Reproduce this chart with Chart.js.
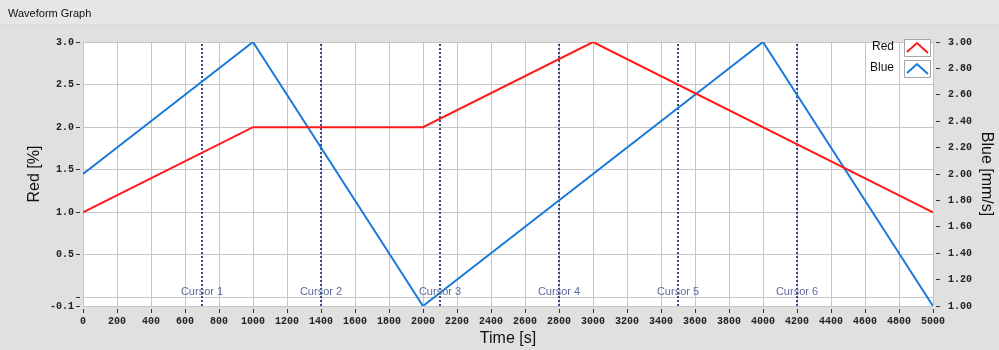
<!DOCTYPE html>
<html lang="en">

<head>
  <meta charset="UTF-8">
  <script src="https://cdn.jsdelivr.net/npm/chart.js"></script>
  <title>Waveform Graph</title>
  <style>
    body { margin: 0; background: #e0e0e0; }
    #caixa { width: 999px; height: 350px; }
  </style>
</head>

<body>
  <div id="caixa"><canvas id="grafico"></canvas></div>
</body>

<script>
  // dados
  const tempoRed = [0, 1000, 2000, 3000, 5000];
  const valoresRed = [1.0, 2.0, 2.0, 3.0, 1.0];
  const tempoBlue = [0, 1000, 2000, 4000, 5000];
  const valoresBlue = [2.0, 3.0, 1.0, 3.0, 1.0];
  const nomesSeries = ['Red', 'Blue'];
  const coresSeries = ['#ff1a1a', '#1a7ad8'];

  const cursores = [700, 1400, 2100, 2800, 3500, 4200];
  const nomesCursores = ['Cursor 1', 'Cursor 2', 'Cursor 3', 'Cursor 4', 'Cursor 5', 'Cursor 6'];

  const ticksRed = [-0.1, 0, 0.5, 1.0, 1.5, 2.0, 2.5, 3.0];

  const fonteTicks = { family: '"Liberation Mono", monospace', size: 10, weight: 'bold' };
  const fonteTitulo = { family: '"Liberation Sans", Arial, sans-serif', size: 16 };

  const fundo = {
    id: 'fundo',
    beforeDraw(chart) {
      const ctx = chart.ctx, a = chart.chartArea;
      ctx.save();
      ctx.fillStyle = '#e0e0e0';
      ctx.fillRect(0, 0, chart.width, chart.height);
      ctx.fillStyle = '#e6e6e6';
      ctx.fillRect(0, 0, chart.width, 24);
      ctx.fillStyle = '#dadada';
      ctx.fillRect(0, 24, chart.width, 1);
      ctx.fillStyle = '#ffffff';
      ctx.fillRect(a.left, a.top, a.right - a.left, a.bottom - a.top);
      ctx.fillStyle = '#111';
      ctx.font = '11px "Liberation Sans", Arial, sans-serif';
      ctx.textBaseline = 'middle';
      ctx.fillText('Waveform Graph', 8, 14);
      ctx.restore();
    }
  };

  const rotulosCursores = {
    id: 'rotulosCursores',
    afterDatasetsDraw(chart) {
      const ctx = chart.ctx, x = chart.scales.x, a = chart.chartArea;
      ctx.save();
      ctx.fillStyle = '#5d6aa0';
      ctx.font = '11px "Liberation Sans", Arial, sans-serif';
      ctx.textAlign = 'center';
      ctx.textBaseline = 'middle';
      cursores.forEach((c, i) => {
        ctx.fillText(nomesCursores[i], x.getPixelForValue(c), a.bottom - 14);
      });
      ctx.restore();
    }
  };

  const legenda = {
    id: 'legenda',
    afterDraw(chart) {
      const ctx = chart.ctx, a = chart.chartArea;
      ctx.save();
      nomesSeries.forEach((nome, i) => {
        const bx = a.right - 29, by = a.top - 3 + i * 21;
        ctx.fillStyle = '#111';
        ctx.font = '12px "Liberation Sans", Arial, sans-serif';
        ctx.textAlign = 'right';
        ctx.textBaseline = 'middle';
        ctx.fillText(nome, a.right - 39, by + 8);
        ctx.fillStyle = '#ffffff';
        ctx.fillRect(bx, by, 26, 17);
        ctx.strokeStyle = '#a8a8a8';
        ctx.lineWidth = 1;
        ctx.strokeRect(bx + 0.5, by + 0.5, 26, 17);
        ctx.strokeStyle = coresSeries[i];
        ctx.lineWidth = 2;
        ctx.beginPath();
        ctx.moveTo(bx + 3, by + 13);
        ctx.lineTo(bx + 13, by + 4);
        ctx.lineTo(bx + 24, by + 14);
        ctx.stroke();
      });
      ctx.restore();
    }
  };

  const datasets = [
    {
      label: nomesSeries[0],
      data: tempoRed.map((t, i) => ({ x: t, y: valoresRed[i] })),
      borderColor: coresSeries[0],
      borderWidth: 2,
      pointRadius: 0,
      yAxisID: 'y'
    },
    {
      label: nomesSeries[1],
      data: tempoBlue.map((t, i) => ({ x: t, y: valoresBlue[i] })),
      borderColor: coresSeries[1],
      borderWidth: 2,
      pointRadius: 0,
      yAxisID: 'y2'
    }
  ];
  cursores.forEach((c, i) => {
    datasets.push({
      label: nomesCursores[i],
      data: [{ x: c, y: -0.1 }, { x: c, y: 3.0 }],
      borderColor: '#3a4890',
      borderWidth: 2,
      borderDash: [2, 2],
      pointRadius: 0,
      yAxisID: 'y'
    });
  });

  new Chart(document.getElementById('grafico'), {
    type: 'line',
    data: { datasets: datasets },
    plugins: [fundo, rotulosCursores, legenda],
    options: {
      animation: false,
      responsive: true,
      maintainAspectRatio: false,
      layout: { padding: { top: 42, left: 0, right: 0, bottom: 0 } },
      plugins: {
        legend: { display: false },
        tooltip: { enabled: false }
      },
      scales: {
        x: {
          type: 'linear',
          min: 0,
          max: 5000,
          afterFit: (s) => { s.height = 44; },
          border: { display: false },
          grid: { color: '#c6c6c6', tickColor: '#333', tickLength: 7, tickBorderDash: [0, 3, 4, 100] },
          ticks: {
            stepSize: 200, autoSkip: false, maxRotation: 0, padding: 2, color: '#222', font: fonteTicks,
            callback: (v) => String(v)
          },
          title: { display: true, text: 'Time [s]', color: '#111', font: fonteTitulo, padding: { top: 0, bottom: 2 } }
        },
        y: {
          position: 'left',
          min: -0.1,
          max: 3.0,
          afterFit: (s) => { s.width = 83; },
          afterBuildTicks: (s) => { s.ticks = ticksRed.map(v => ({ value: v })); },
          border: { display: false },
          grid: { color: '#c6c6c6', tickColor: '#333', tickLength: 7, tickBorderDash: [4, 100] },
          ticks: {
            padding: 2, color: '#222', font: fonteTicks,
            callback: (v) => v === 0 ? '' : v.toFixed(1)
          },
          title: { display: true, text: 'Red [%]', color: '#111', font: fonteTitulo, padding: { top: 25, bottom: 0 } }
        },
        y2: {
          position: 'right',
          min: 1.0,
          max: 3.0,
          afterFit: (s) => { s.width = 66; },
          border: { display: false },
          grid: { drawOnChartArea: false, tickColor: '#333', tickLength: 7, tickBorderDash: [0, 3, 4, 100] },
          ticks: {
            stepSize: 0.2, padding: 8, color: '#222', font: fonteTicks,
            callback: (v) => v.toFixed(2)
          },
          title: { display: true, text: 'Blue [mm/s]', color: '#111', font: fonteTitulo, padding: { top: 3, bottom: 0 } }
        }
      }
    }
  });
</script>

</html>
